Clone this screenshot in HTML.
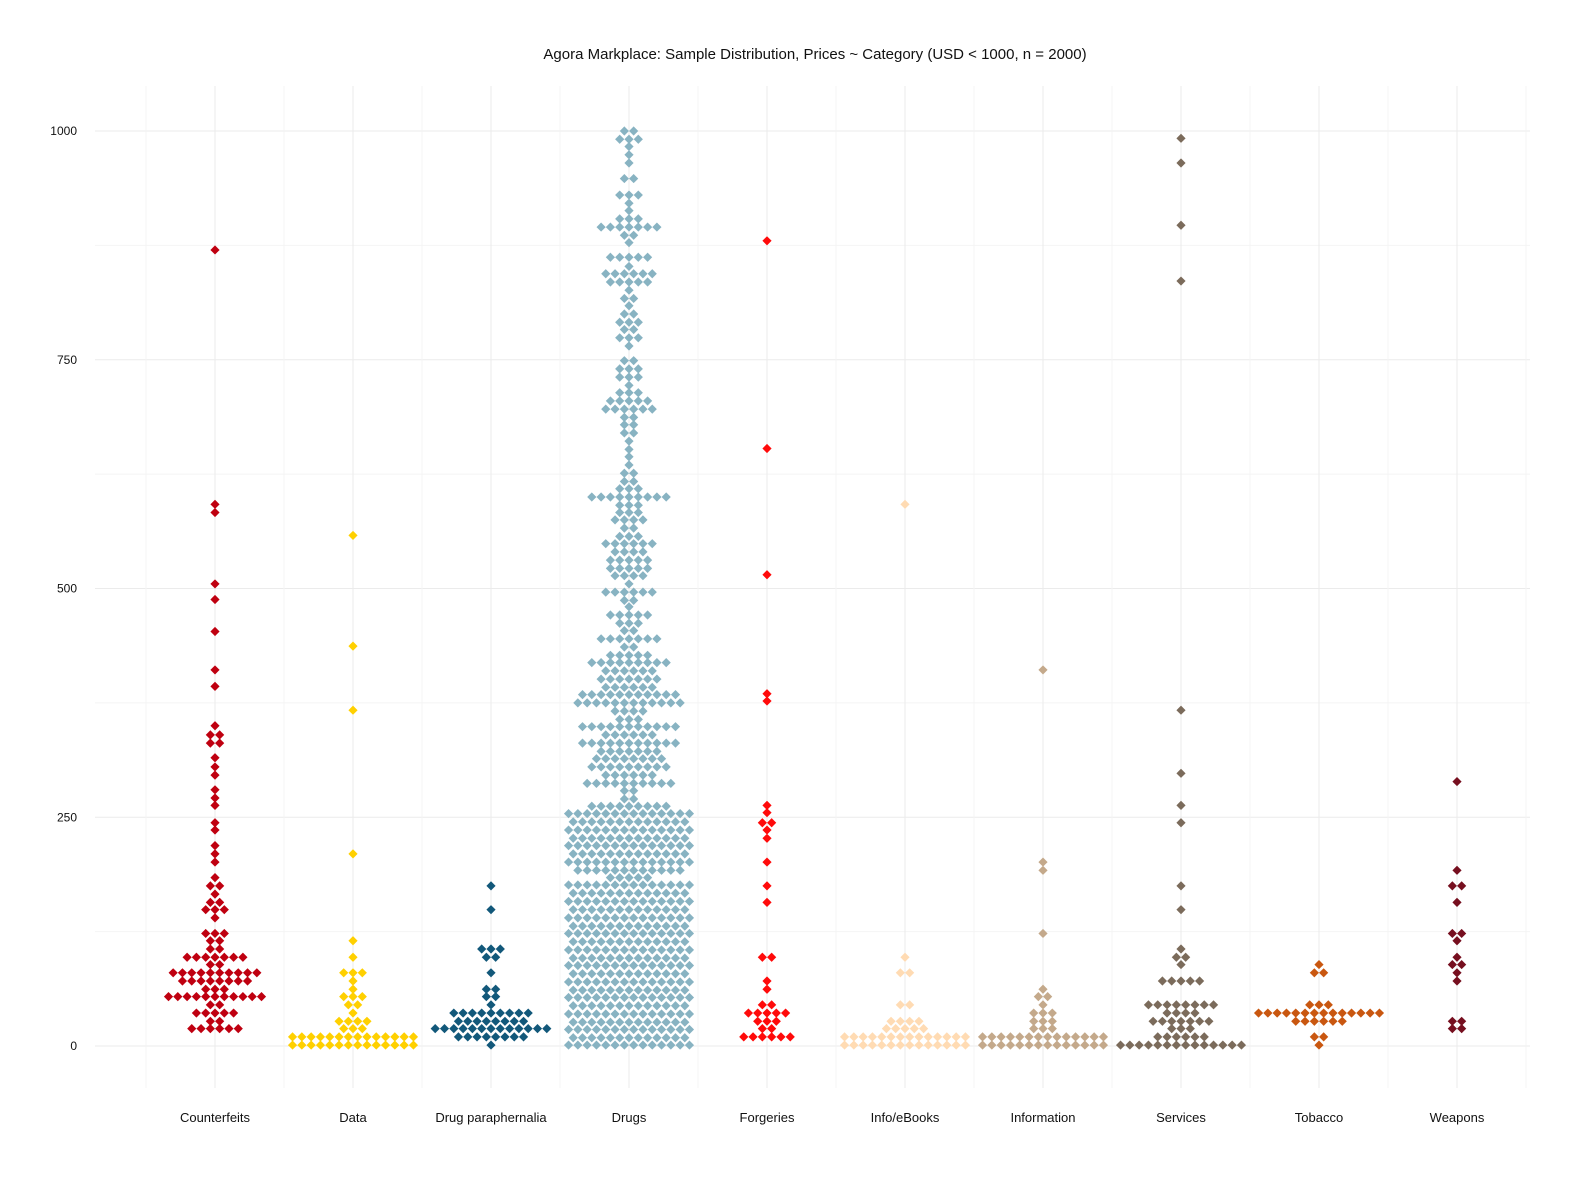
<!DOCTYPE html>
<html><head><meta charset="utf-8">
<style>
html,body{margin:0;padding:0;background:#fff;}
svg{display:block;font-family:"Liberation Sans",sans-serif;}
</style></head>
<body>
<svg id="chart" width="1570" height="1191" viewBox="0 0 1570 1191" xmlns="http://www.w3.org/2000/svg">
<rect width="1570" height="1191" fill="#fff"/>
<text x="815" y="59" text-anchor="middle" font-size="15" fill="#111">Agora Markplace: Sample Distribution, Prices ~ Category (USD &lt; 1000, n = 2000)</text>
<g id="grid"></g>
<g id="yticks"></g>
<g id="xticks"></g>
<g id="points"></g>
</svg>
<script>
const categories = ["Counterfeits","Data","Drug paraphernalia","Drugs","Forgeries","Info/eBooks","Information","Services","Tobacco","Weapons"];
const colors = ["#bf0010","#ffd000","#12587a","#88b3c2","#ff0a0a","#ffdbb3","#c4a98b","#7b6b5b","#c95710","#760f1f"];
const yTicks = [0,250,500,750,1000];
const yMinor = [125,375,625,875];

const counterfeitVals = [870,592,583,505,488,453,411,393,350,340,331,315,305,296,280,271,263,244,236,219,210,201,184,175,166,157,149,140,123,115,106,97,89,80,71,62,54,45,36,27,19];
const counterfeitCounts = [1,1,1,1,1,1,1,1,1,2,2,1,1,1,1,1,1,1,1,1,1,1,1,2,1,2,3,1,3,2,2,7,2,10,8,3,11,2,5,2,6];
const dataVals = [558,437,367,210,115,97,80,71,62,54,45,36,27,19,10,1];
const dataCounts = [1,1,1,1,1,1,3,1,1,3,2,1,4,3,14,14];
const parapVals = [175,149,106,97,80,62,54,45,36,27,19,10,1];
const parapCounts = [1,1,3,2,1,2,2,1,9,8,13,8,1];
const drugVals = [1000,991,983,974,965,948,930,921,913,904,895,886,878,862,852,844,835,826,817,809,800,791,783,774,765,749,740,731,722,714,705,696,687,679,670,661,652,644,635,626,617,609,600,591,583,575,566,557,549,540,531,522,514,505,496,487,480,471,462,454,445,436,427,419,410,401,392,384,375,366,357,349,340,331,322,314,305,296,287,279,270,262,254,245,236,227,219,210,201,192,184,176,167,158,149,140,131,123,114,105,96,88,79,70,61,53,44,35,26,18,9,1];
const drugCounts = [2,3,1,1,1,2,3,1,1,3,7,2,1,5,1,6,5,1,2,1,2,3,2,3,1,2,3,3,1,3,5,6,2,2,2,1,1,1,1,2,2,3,9,3,3,4,2,3,6,4,5,5,4,1,6,2,1,5,3,2,7,2,5,9,6,7,6,11,12,4,3,11,6,11,7,8,9,6,10,2,2,9,14,13,14,13,14,13,14,12,5,14,13,14,13,14,13,14,13,14,13,14,13,14,13,14,13,14,13,14,13,14];
const forgVals = [880,653,515,385,377,263,255,244,236,227,201,175,157,97,71,62,45,36,27,19,10];
const forgCounts = [1,1,1,1,1,1,1,2,1,1,1,1,1,2,1,1,2,5,3,2,6];
const infoVals = [592,97,80,45,27,19,10,1];
const infoCounts = [1,1,2,2,4,5,14,14];
const informVals = [411,201,192,123,62,54,45,36,27,19,10,1];
const informCounts = [1,1,1,1,1,2,1,3,3,3,14,14];
const servVals = [992,965,897,836,367,298,263,244,175,149,106,97,89,71,45,36,27,19,10,1];
const servCounts = [1,1,1,1,1,1,1,1,1,1,1,2,1,5,8,4,7,3,6,14];
const tobVals = [89,80,45,36,27,10,1];
const tobCounts = [1,2,3,14,6,2,1];
const weapVals = [289,192,175,157,123,115,97,89,80,71,27,19];
const weapCounts = [1,1,2,1,2,1,1,2,1,1,2,2];

const seriesVals = [counterfeitVals,dataVals,parapVals,drugVals,forgVals,infoVals,informVals,servVals,tobVals,weapVals];
const seriesCounts = [counterfeitCounts,dataCounts,parapCounts,drugCounts,forgCounts,infoCounts,informCounts,servCounts,tobCounts,weapCounts];

const NS = "http://www.w3.org/2000/svg";
const y0 = 1046, yScale = 0.915;
function yPos(v){ return y0 - v*yScale; }
function xPos(i){ return 215 + i*138; }
const plotL = 95, plotR = 1530, plotT = 86, plotB = 1088;
function mk(tag, attrs, parent){ const e=document.createElementNS(NS,tag); for(const k in attrs) e.setAttribute(k,attrs[k]); parent.appendChild(e); return e; }

const grid = document.getElementById('grid');
yMinor.forEach(v=>{
  const l = mk('line',{x1:plotL,x2:plotR,y1:yPos(v),y2:yPos(v),stroke:'#f4f4f4','stroke-width':1},grid);
  
  
});
yTicks.forEach(v=>{
  const l = mk('line',{x1:plotL,x2:plotR,y1:yPos(v),y2:yPos(v),stroke:'#ebebeb','stroke-width':1},grid);
  
  
});
for(let i=0;i<=categories.length;i++){
  const x = xPos(i)-69;
  const l = mk('line',{x1:x,x2:x,y1:plotT,y2:plotB,stroke:'#f4f4f4','stroke-width':1},grid);
  
  
}
categories.forEach((c,i)=>{
  const l = mk('line',{x1:xPos(i),x2:xPos(i),y1:plotT,y2:plotB,stroke:'#ebebeb','stroke-width':1},grid);
  
  
});

const yt = document.getElementById('yticks');
yTicks.forEach(v=>{
  const t = mk('text',{x:77,y:yPos(v)+4,'text-anchor':'end','font-size':12,fill:'#111'},yt);
  t.textContent = v;
  
  
});
const xt = document.getElementById('xticks');
categories.forEach((c,i)=>{
  const t = mk('text',{x:xPos(i),y:1122,'text-anchor':'middle','font-size':13,fill:'#111'},xt);
  t.textContent = c;
  
  
});

const pts = document.getElementById('points');
const dx = 9.3, r = 4.6;
seriesVals.forEach((vals,si)=>{
  const g = mk('g',{fill:colors[si]},pts);
  
  
  vals.forEach((v,ri)=>{
    const n = seriesCounts[si][ri];
    const cy = yPos(v);
    for(let k=0;k<n;k++){
      const cx = xPos(si) + (k-(n-1)/2)*dx;
      const p = mk('path',{d:`M${cx} ${cy-r}L${cx+r} ${cy}L${cx} ${cy+r}L${cx-r} ${cy}Z`},g);
      
      
    }
  });
});
</script>
</body></html>
